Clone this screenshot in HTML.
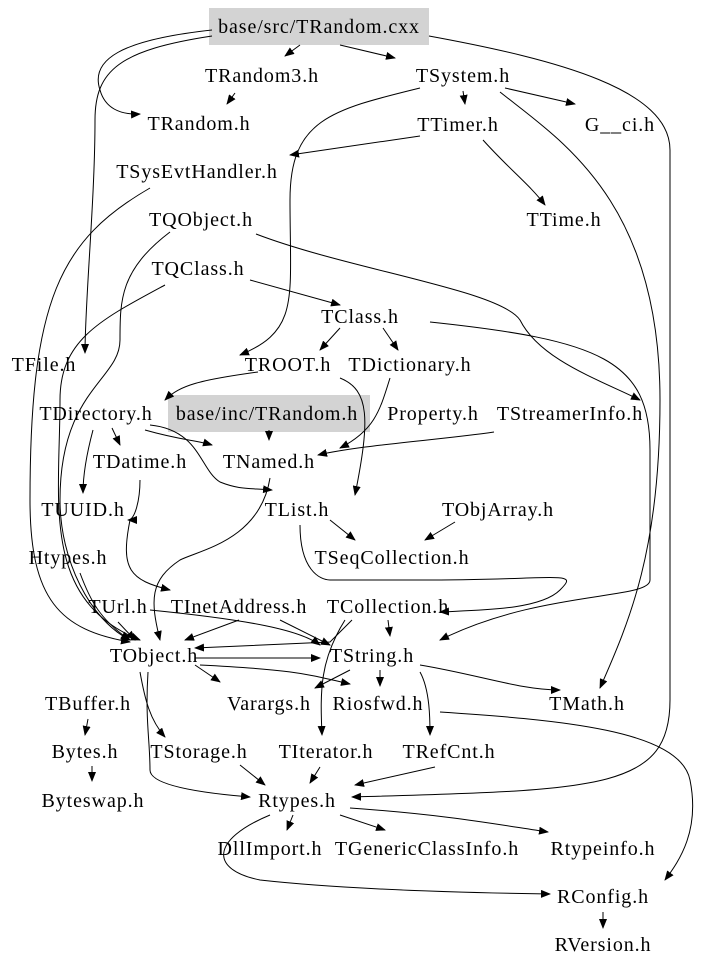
<!DOCTYPE html>
<html><head><meta charset="utf-8"><style>
html,body{margin:0;padding:0;background:#fff;}
svg{display:block;}
text{font-family:"Liberation Serif",serif;font-size:20px;letter-spacing:0.9px;fill:#000;text-anchor:middle;}
path{fill:none;stroke:#000;stroke-width:1;}
</style></head><body>
<svg width="709" height="971" viewBox="0 0 709 971" xmlns="http://www.w3.org/2000/svg">
<defs><marker id="a" markerWidth="10" markerHeight="8" refX="9" refY="4" orient="auto" markerUnits="userSpaceOnUse"><path d="M0,0 L10,4 L0,8 z" style="fill:#000;stroke:none"/></marker></defs>
<rect x="209" y="8" width="220" height="37" fill="#d3d3d3"/>
<rect x="168" y="395" width="202" height="37" fill="#d3d3d3"/>
<g marker-end="url(#a)">
<path d="M300,45 L285,56"/>
<path d="M340,45 L395,58"/>
<path d="M212,30 C120,40 90,60 100,90 C105,108 120,115 140,114"/>
<path d="M212,36 C120,50 95,70 95,120 C95,200 85,300 85,353"/>
<path d="M429,36 C560,60 670,90 670,150 L670,700 C670,790 600,790 352,797"/>
<path d="M235,93 L227,104"/>
<path d="M463,91 L465,104"/>
<path d="M505,88 L575,104"/>
<path d="M420,88 C330,110 290,120 290,200 C290,300 300,330 240,355"/>
<path d="M500,92 C560,140 660,200 660,400 C660,550 630,620 600,688"/>
<path d="M483,140 C510,170 530,185 545,205"/>
<path d="M420,136 L290,155"/>
<path d="M150,188 C60,240 30,300 30,500 C30,600 60,630 130,642"/>
<path d="M256,234 C350,270 500,290 520,320 C540,360 600,380 640,400"/>
<path d="M170,232 C120,270 120,300 120,340 C120,380 60,390 60,500 C60,560 90,620 130,640"/>
<path d="M250,280 L340,305"/>
<path d="M165,285 C100,320 60,340 60,400 C60,500 40,600 140,640"/>
<path d="M340,328 L320,350"/>
<path d="M383,328 L398,350"/>
<path d="M430,322 C600,340 650,360 650,450 L650,580 C650,600 540,590 440,640"/>
<path d="M258,372 C200,380 180,385 165,400"/>
<path d="M340,378 C370,390 370,420 355,495"/>
<path d="M390,378 C380,410 375,430 340,448"/>
<path d="M494,432 C440,440 360,445 318,455"/>
<path d="M112,428 L120,445"/>
<path d="M93,430 C85,460 83,480 83,493"/>
<path d="M145,430 C180,440 195,440 212,445"/>
<path d="M150,425 C200,430 200,470 220,482 C240,490 250,488 272,490"/>
<path d="M269,430 L269,440"/>
<path d="M270,478 C260,540 200,550 180,560 C150,580 150,600 160,640"/>
<path d="M330,520 L355,540"/>
<path d="M455,522 L425,540"/>
<path d="M300,525 C300,570 320,580 330,580 L420,580 C560,580 580,570 560,590 C540,610 480,610 440,612"/>
<path d="M352,620 L330,642 L195,648"/>
<path d="M388,620 L390,636"/>
<path d="M345,620 C320,660 320,690 322,735"/>
<path d="M195,665 L220,682"/>
<path d="M200,665 C300,670 310,675 350,684"/>
<path d="M148,672 C145,720 150,740 150,770 C150,790 240,796 250,797"/>
<path d="M140,672 C145,700 150,720 165,737"/>
<path d="M195,658 L320,658"/>
<path d="M420,665 C480,675 520,690 560,690"/>
<path d="M350,670 L315,688"/>
<path d="M420,672 C430,690 430,720 430,735"/>
<path d="M380,670 L380,686"/>
<path d="M92,766 L92,781"/>
<path d="M88,719 L85,735"/>
<path d="M240,765 L265,785"/>
<path d="M320,767 L310,783"/>
<path d="M435,767 L355,785"/>
<path d="M293,815 L287,830"/>
<path d="M340,815 L385,830"/>
<path d="M350,808 C450,815 500,825 548,832"/>
<path d="M270,815 C210,840 210,870 260,880 C350,890 480,893 550,894"/>
<path d="M603,912 L603,928"/>
<path d="M440,712 C560,720 680,730 690,780 C700,830 680,860 665,880"/>
<path d="M118,622 L135,640"/>
<path d="M80,573 C90,600 100,620 130,640"/>
<path d="M140,480 C140,500 135,520 128,520"/>
<path d="M239,620 L185,640"/>
<path d="M150,610 C250,620 300,630 320,645"/>
<path d="M280,620 L330,645"/>
<path d="M130,520 C120,570 130,580 170,590"/>
</g>
<text x="319" y="33">base/src/TRandom.cxx</text>
<text x="262" y="82">TRandom3.h</text>
<text x="463" y="82">TSystem.h</text>
<text x="199" y="130">TRandom.h</text>
<text x="458" y="131">TTimer.h</text>
<text x="620" y="131">G__ci.h</text>
<text x="197" y="178">TSysEvtHandler.h</text>
<text x="564" y="226">TTime.h</text>
<text x="201" y="226">TQObject.h</text>
<text x="198" y="275">TQClass.h</text>
<text x="360" y="323">TClass.h</text>
<text x="44" y="371">TFile.h</text>
<text x="288" y="371">TROOT.h</text>
<text x="410" y="371">TDictionary.h</text>
<text x="96" y="420">TDirectory.h</text>
<text x="267" y="420">base/inc/TRandom.h</text>
<text x="433" y="420">Property.h</text>
<text x="570" y="420">TStreamerInfo.h</text>
<text x="140" y="468">TDatime.h</text>
<text x="269" y="468">TNamed.h</text>
<text x="83" y="516">TUUID.h</text>
<text x="297" y="516">TList.h</text>
<text x="498" y="516">TObjArray.h</text>
<text x="68" y="564">Htypes.h</text>
<text x="392" y="564">TSeqCollection.h</text>
<text x="118" y="613">TUrl.h</text>
<text x="239" y="613">TInetAddress.h</text>
<text x="388" y="613">TCollection.h</text>
<text x="154" y="662">TObject.h</text>
<text x="372" y="662">TString.h</text>
<text x="88" y="710">TBuffer.h</text>
<text x="269" y="710">Varargs.h</text>
<text x="378" y="710">Riosfwd.h</text>
<text x="587" y="710">TMath.h</text>
<text x="85" y="758">Bytes.h</text>
<text x="199" y="758">TStorage.h</text>
<text x="326" y="758">TIterator.h</text>
<text x="449" y="758">TRefCnt.h</text>
<text x="93" y="807">Byteswap.h</text>
<text x="297" y="807">Rtypes.h</text>
<text x="270" y="855">DllImport.h</text>
<text x="427" y="855">TGenericClassInfo.h</text>
<text x="603" y="855">Rtypeinfo.h</text>
<text x="603" y="903">RConfig.h</text>
<text x="603" y="951">RVersion.h</text>
</svg>
</body></html>
